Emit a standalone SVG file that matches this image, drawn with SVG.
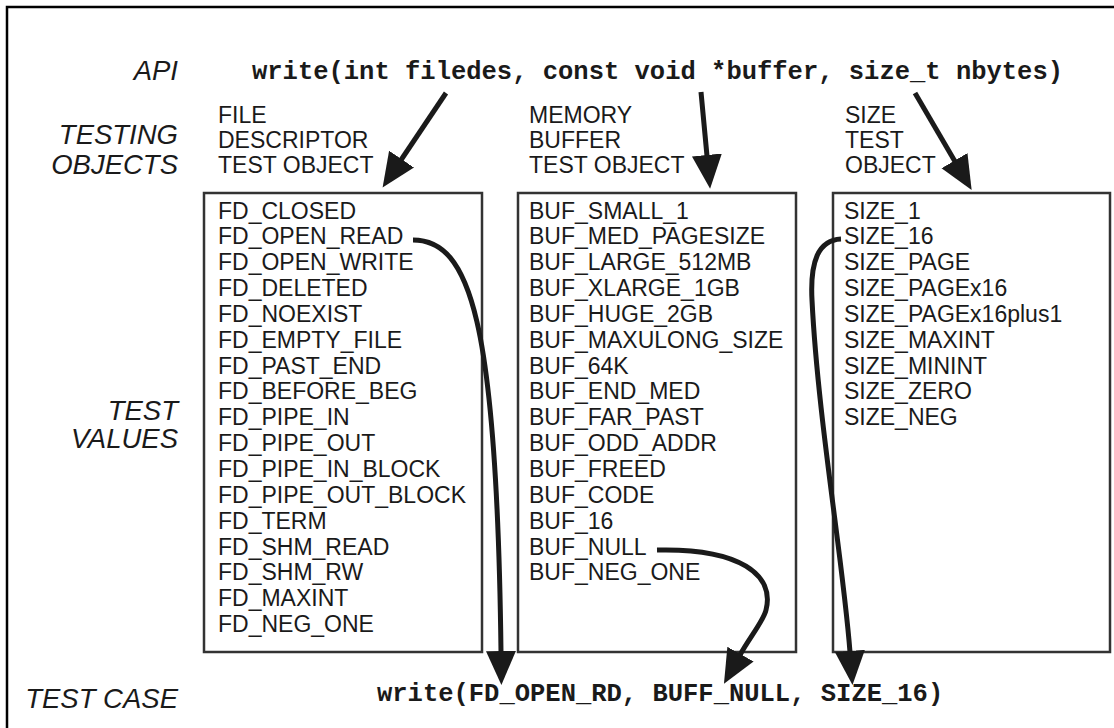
<svg xmlns="http://www.w3.org/2000/svg" width="1114" height="728" viewBox="0 0 1114 728">
  <style>
    .lbl { font-family: "Liberation Sans", Arial, sans-serif; font-style: italic; font-size: 27.5px; fill: #1a1a1a; text-anchor: end; }
    .hdr { font-family: "Liberation Sans", Arial, sans-serif; font-size: 23px; fill: #1a1a1a; }
    .val { font-family: "Liberation Sans", Arial, sans-serif; font-size: 23px; fill: #1a1a1a; }
    .code { font-family: "Liberation Mono", "Courier New", monospace; font-weight: bold; font-size: 25.5px; fill: #1a1a1a; }
    .box { fill: #ffffff; stroke: #333333; stroke-width: 2.5; }
    .arrow { fill: none; stroke: #1a1a1a; stroke-width: 5; stroke-linecap: butt; marker-end: url(#head); }
  </style>
  <defs>
    <marker id="head" markerUnits="userSpaceOnUse" viewBox="0 -20 40 40" markerWidth="40" markerHeight="40" refX="1" refY="0" orient="auto">
      <polygon points="0,-15 34,0 0,15" fill="#1a1a1a"/>
    </marker>
  </defs>

  <rect width="1114" height="728" fill="#ffffff"/>
  <!-- frame -->
  <rect x="7" y="7" width="1120" height="740" fill="none" stroke="#000000" stroke-width="2.5"/>

  <!-- row labels -->
  <g id="row-labels">
    <text class="lbl" x="178" y="80">API</text>
    <text class="lbl" x="178" y="144">TESTING</text>
    <text class="lbl" x="178" y="174">OBJECTS</text>
    <text class="lbl" x="178" y="420">TEST</text>
    <text class="lbl" x="178" y="448">VALUES</text>
    <text class="lbl" x="178" y="708">TEST CASE</text>
  </g>

  <!-- API signature -->
  <g id="api">
    <text class="code" x="252" y="79" xml:space="preserve">write(int filedes, const void *buffer, size_t nbytes)</text>
  </g>

  <!-- file descriptor test object -->
  <g id="fd-object">
    <text class="hdr" x="218" y="123">FILE</text>
    <text class="hdr" x="218" y="148">DESCRIPTOR</text>
    <text class="hdr" x="218" y="173">TEST OBJECT</text>
    <rect class="box" x="204" y="193" width="278" height="459"/>
    <text class="val" x="218" y="218.5">
      <tspan x="218" dy="0">FD_CLOSED</tspan>
      <tspan x="218" dy="25.85">FD_OPEN_READ</tspan>
      <tspan x="218" dy="25.85">FD_OPEN_WRITE</tspan>
      <tspan x="218" dy="25.85">FD_DELETED</tspan>
      <tspan x="218" dy="25.85">FD_NOEXIST</tspan>
      <tspan x="218" dy="25.85">FD_EMPTY_FILE</tspan>
      <tspan x="218" dy="25.85">FD_PAST_END</tspan>
      <tspan x="218" dy="25.85">FD_BEFORE_BEG</tspan>
      <tspan x="218" dy="25.85">FD_PIPE_IN</tspan>
      <tspan x="218" dy="25.85">FD_PIPE_OUT</tspan>
      <tspan x="218" dy="25.85">FD_PIPE_IN_BLOCK</tspan>
      <tspan x="218" dy="25.85">FD_PIPE_OUT_BLOCK</tspan>
      <tspan x="218" dy="25.85">FD_TERM</tspan>
      <tspan x="218" dy="25.85">FD_SHM_READ</tspan>
      <tspan x="218" dy="25.85">FD_SHM_RW</tspan>
      <tspan x="218" dy="25.85">FD_MAXINT</tspan>
      <tspan x="218" dy="25.85">FD_NEG_ONE</tspan>
    </text>
  </g>

  <!-- memory buffer test object -->
  <g id="buf-object">
    <text class="hdr" x="529" y="123">MEMORY</text>
    <text class="hdr" x="529" y="148">BUFFER</text>
    <text class="hdr" x="529" y="173">TEST OBJECT</text>
    <rect class="box" x="518" y="193" width="278" height="459"/>
    <text class="val" x="529" y="218.5">
      <tspan x="529" dy="0">BUF_SMALL_1</tspan>
      <tspan x="529" dy="25.85">BUF_MED_PAGESIZE</tspan>
      <tspan x="529" dy="25.85">BUF_LARGE_512MB</tspan>
      <tspan x="529" dy="25.85">BUF_XLARGE_1GB</tspan>
      <tspan x="529" dy="25.85">BUF_HUGE_2GB</tspan>
      <tspan x="529" dy="25.85">BUF_MAXULONG_SIZE</tspan>
      <tspan x="529" dy="25.85">BUF_64K</tspan>
      <tspan x="529" dy="25.85">BUF_END_MED</tspan>
      <tspan x="529" dy="25.85">BUF_FAR_PAST</tspan>
      <tspan x="529" dy="25.85">BUF_ODD_ADDR</tspan>
      <tspan x="529" dy="25.85">BUF_FREED</tspan>
      <tspan x="529" dy="25.85">BUF_CODE</tspan>
      <tspan x="529" dy="25.85">BUF_16</tspan>
      <tspan x="529" dy="25.85">BUF_NULL</tspan>
      <tspan x="529" dy="25.85">BUF_NEG_ONE</tspan>
    </text>
  </g>

  <!-- size test object -->
  <g id="size-object">
    <text class="hdr" x="845" y="123">SIZE</text>
    <text class="hdr" x="845" y="148">TEST</text>
    <text class="hdr" x="845" y="173">OBJECT</text>
    <rect class="box" x="833" y="193" width="277" height="459"/>
    <text class="val" x="844" y="218.5">
      <tspan x="844" dy="0">SIZE_1</tspan>
      <tspan x="844" dy="25.85">SIZE_16</tspan>
      <tspan x="844" dy="25.85">SIZE_PAGE</tspan>
      <tspan x="844" dy="25.85">SIZE_PAGEx16</tspan>
      <tspan x="844" dy="25.85">SIZE_PAGEx16plus1</tspan>
      <tspan x="844" dy="25.85">SIZE_MAXINT</tspan>
      <tspan x="844" dy="25.85">SIZE_MININT</tspan>
      <tspan x="844" dy="25.85">SIZE_ZERO</tspan>
      <tspan x="844" dy="25.85">SIZE_NEG</tspan>
    </text>
  </g>

  <!-- resulting test case -->
  <g id="test-case">
    <text class="code" x="377" y="701" xml:space="preserve">write(FD_OPEN_RD, BUFF_NULL, SIZE_16)</text>
  </g>

  <!-- connectors -->
  <g id="connectors">
    <path class="arrow" d="M 446 93 L 401 160"/>
    <path class="arrow" d="M 701 92 L 707 156"/>
    <path class="arrow" d="M 915 93 L 955 161.5"/>
    <path class="arrow" d="M 413 240 C 470 240, 497 320, 501 652"/>
    <path class="arrow" d="M 657 550 C 740 548, 775 575, 766 610 C 764 620, 750 637, 740 655"/>
    <path class="arrow" d="M 841 239 C 818 240, 810 262, 812 300 C 818 420, 843 560, 850 652"/>
  </g>
</svg>
